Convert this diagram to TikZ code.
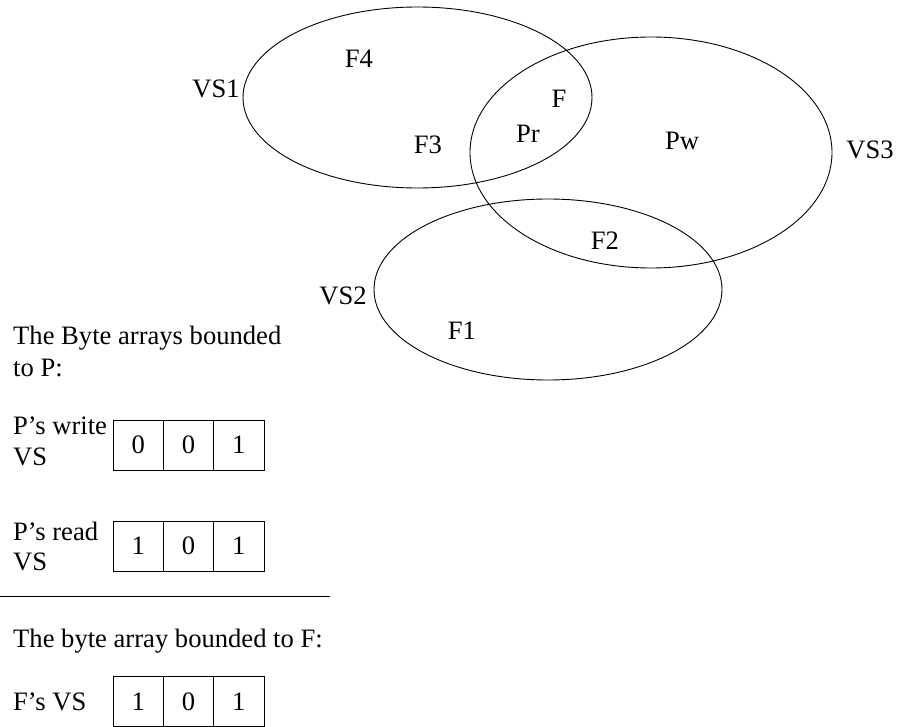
\documentclass[tikz,border=0pt]{standalone}
\usepackage{fontspec}
\setmainfont{Liberation Serif}
\usetikzlibrary{shapes.geometric}
\tikzset{
  setellipse/.style={draw, ellipse, line width=0.9pt, inner sep=0pt},
  lbl/.style={inner sep=0pt, anchor=base, font=\fontsize{26.6}{31}\selectfont},
  txt/.style={inner sep=0pt, anchor=base west, font=\fontsize{26.6}{31}\selectfont},
  cell/.style={draw, line width=0.9pt, minimum width=50.3pt, minimum height=50pt,
               inner sep=0pt, font=\fontsize{26.6}{31}\selectfont},
}
\begin{document}
\begin{tikzpicture}[x=1pt,y=-1pt]
\useasboundingbox (0,0) rectangle (900,727);

% Venn diagram of the three version sets
\node[setellipse, minimum width=349pt, minimum height=181pt] (vs1) at (417.5,97.5) {};
\node[setellipse, minimum width=362pt, minimum height=231pt] (vs3) at (651,152.5) {};
\node[setellipse, minimum width=348pt, minimum height=181pt] (vs2) at (548,289.5) {};

\node[lbl] (lvs1) at (216,98) {VS1};
\node[lbl] (lvs3) at (870,159) {VS3};
\node[lbl] (lvs2) at (343,305) {VS2};
\node[lbl] (f4) at (359,68) {F4};
\node[lbl] (f3) at (428,154) {F3};
\node[lbl] (f)  at (559,108) {F};
\node[lbl] (pr) at (528,143) {Pr};
\node[lbl] (pw) at (682,150) {Pw};
\node[lbl] (f2) at (605,250) {F2};
\node[lbl] (f1) at (462,340) {F1};

% Byte arrays bounded to P
\node[txt] (hp1) at (13,345) {The Byte arrays bounded};
\node[txt] (hp2) at (13,377) {to P:};

\node[txt] (w1) at (13,435) {P's write};
\node[txt] (w2) at (13,465) {VS};
\node[cell] (wa) at (138.2,445) {0};
\node[cell] (wb) at (188.5,445) {0};
\node[cell] (wc) at (238.8,445) {1};

\node[txt] (r1) at (13,540) {P's read};
\node[txt] (r2) at (13,570) {VS};
\node[cell] (ra) at (138.2,546) {1};
\node[cell] (rb) at (188.5,546) {0};
\node[cell] (rc) at (238.8,546) {1};

% separator
\coordinate (sepL) at (0,596);
\coordinate (sepR) at (330,596);
\draw[line width=0.9pt] (sepL) -- (sepR);

% Byte array bounded to F
\node[txt] (hf) at (13,647) {The byte array bounded to F:};
\node[txt] (fl) at (13,710) {F's VS};
\node[cell] (fa) at (138.2,701.5) {1};
\node[cell] (fb) at (188.5,701.5) {0};
\node[cell] (fc) at (238.8,701.5) {1};
\end{tikzpicture}
\end{document}
